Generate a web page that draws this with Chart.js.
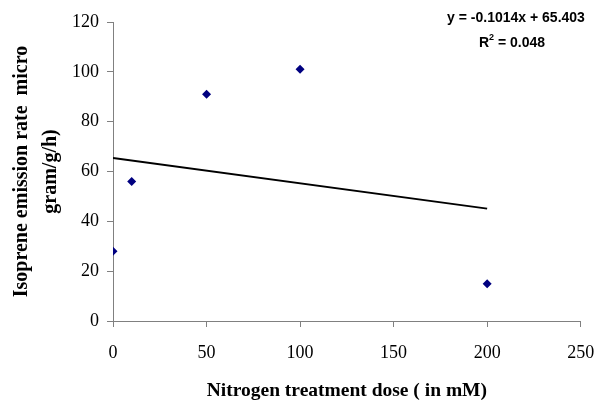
<!DOCTYPE html>
<html>
<head>
<meta charset="utf-8">
<script src="https://cdn.jsdelivr.net/npm/chart.js@4"></script>
<style>
html,body{margin:0;padding:0;background:#fff;}
canvas{display:block;}
</style>
</head>
<body>
<canvas id="c" width="606" height="405"></canvas>
<script>
const doses = [0, 10, 50, 100, 200];
const emission = [28, 56, 91, 101, 15];
const trendX = [0, 200];
const trendY = [65.4, 45.1];
const xTicks = [0, 50, 100, 150, 200, 250];
const yTicks = [0, 20, 40, 60, 80, 100, 120];
const equationLine = 'y = -0.1014x + 65.403';
const r2Value = '0.048';
const xTitle = 'Nitrogen treatment dose ( in mM)';
const yTitle = ['Isoprene emission rate  micro', 'gram/g/h)'];

const eqPlugin = {
  id: 'eq',
  afterDraw(chart) {
    const ctx = chart.ctx;
    ctx.save();
    ctx.fillStyle = '#000';
    ctx.font = 'bold 14px "Liberation Sans", Arial, sans-serif';
    ctx.textBaseline = 'middle';
    ctx.textAlign = 'center';
    ctx.fillText(equationLine, 516, 18);
    const a = 'R', b = ' = ' + r2Value;
    const wa = ctx.measureText(a).width;
    ctx.font = 'bold 9px "Liberation Sans", Arial, sans-serif';
    const ws = ctx.measureText('2').width;
    ctx.font = 'bold 14px "Liberation Sans", Arial, sans-serif';
    const wb = ctx.measureText(b).width;
    const total = wa + ws + wb;
    let x = 512 - total / 2;
    ctx.textAlign = 'left';
    ctx.fillText(a, x, 43);
    x += wa;
    ctx.font = 'bold 9px "Liberation Sans", Arial, sans-serif';
    ctx.fillText('2', x, 38);
    x += ws;
    ctx.font = 'bold 14px "Liberation Sans", Arial, sans-serif';
    ctx.fillText(b, x, 43);
    ctx.restore();
  }
};

new Chart(document.getElementById('c'), {
  type: 'scatter',
  data: {
    datasets: [
      {
        data: doses.map((d, i) => ({x: d, y: emission[i]})),
        pointStyle: 'rectRot',
        pointRadius: 4.5,
        pointBackgroundColor: '#000080',
        pointBorderColor: '#000080',
        pointBorderWidth: 0,
        showLine: false
      },
      {
        type: 'line',
        data: trendX.map((d, i) => ({x: d, y: trendY[i]})),
        borderColor: '#000',
        borderWidth: 2,
        pointRadius: 0,
        fill: false
      }
    ]
  },
  options: {
    responsive: false,
    animation: false,
    devicePixelRatio: 1,
    layout: {padding: {left: 0, right: 25.3, top: 22, bottom: 0}},
    plugins: {legend: {display: false}, tooltip: {enabled: false}},
    scales: {
      x: {
        type: 'linear',
        min: 0, max: 250,
        afterBuildTicks(s) { s.ticks = xTicks.map(v => ({value: v})); },
        afterFit(s) { s.height = 84; s.paddingRight = 0; s.paddingLeft = 0; },
        grid: {drawOnChartArea: false, drawTicks: true, tickLength: 6, color: '#808080'},
        border: {color: '#808080', width: 1},
        ticks: {padding: 15, color: '#000', font: {family: '"Liberation Serif", "Times New Roman", serif', size: 18}, maxRotation: 0},
        title: {display: true, text: xTitle, color: '#000', padding: {top: 0, bottom: 2},
          font: {family: '"Liberation Serif", "Times New Roman", serif', size: 19.5, weight: 'bold'}}
      },
      y: {
        min: 0, max: 120,
        afterBuildTicks(s) { s.ticks = yTicks.map(v => ({value: v})); },
        afterFit(s) { s.width = 113; s.paddingTop = 0; s.paddingBottom = 0; },
        grid: {drawOnChartArea: false, drawTicks: true, tickLength: 6, color: '#808080'},
        border: {color: '#808080', width: 1},
        ticks: {padding: 8, color: '#000', font: {family: '"Liberation Serif", "Times New Roman", serif', size: 18}},
        title: {display: true, text: yTitle, color: '#000', padding: {top: 7.5, bottom: 0},
          font: {family: '"Liberation Serif", "Times New Roman", serif', size: 20, weight: 'bold', lineHeight: 1.45}}
      }
    }
  },
  plugins: [eqPlugin]
});
</script>
</body>
</html>
